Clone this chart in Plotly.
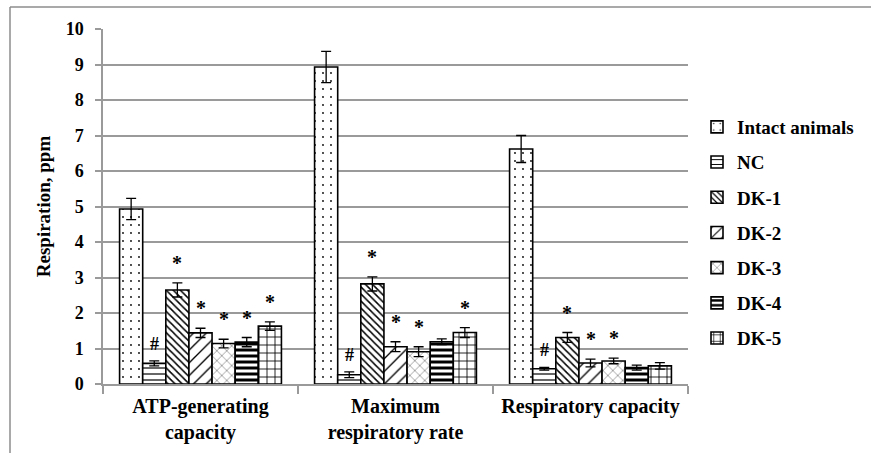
import plotly.graph_objects as go

# Measurement groups on the category axis
categories = ["ATP-generating<br>capacity", "Maximum<br>respiratory rate", "Respiratory capacity"]

# Series: mean respiration (ppm) and error per group
series_names = ["Intact animals", "NC", "DK-1", "DK-2", "DK-3", "DK-4", "DK-5"]
intact = [4.93, 8.93, 6.62]
nc = [0.58, 0.26, 0.43]
dk1 = [2.65, 2.82, 1.31]
dk2 = [1.44, 1.05, 0.59]
dk3 = [1.14, 0.91, 0.65]
dk4 = [1.18, 1.19, 0.46]
dk5 = [1.63, 1.45, 0.51]

intact_err = [0.30, 0.44, 0.38]
nc_err = [0.07, 0.08, 0.04]
dk1_err = [0.20, 0.20, 0.14]
dk2_err = [0.13, 0.14, 0.11]
dk3_err = [0.12, 0.14, 0.08]
dk4_err = [0.13, 0.08, 0.07]
dk5_err = [0.12, 0.14, 0.09]

# Significance marks per series and group ("" = none)
nc_marks = ["#", "#", "#"]
dk1_marks = ["*", "*", "*"]
dk2_marks = ["*", "*", "*"]
dk3_marks = ["*", "*", "*"]
dk4_marks = ["*", "", ""]
dk5_marks = ["*", "*", ""]
intact_marks = ["", "", ""]

values = [intact, nc, dk1, dk2, dk3, dk4, dk5]
errors = [intact_err, nc_err, dk1_err, dk2_err, dk3_err, dk4_err, dk5_err]
marks = [intact_marks, nc_marks, dk1_marks, dk2_marks, dk3_marks, dk4_marks, dk5_marks]

patterns = [
    dict(shape=".", size=8, solidity=0.04),
    dict(shape="-", size=6, solidity=0.2),
    dict(shape="\\", size=5, solidity=0.3),
    dict(shape="/", size=9, solidity=0.15),
    dict(shape="x", size=7, solidity=0.1),
    dict(shape="-", size=6, solidity=0.5),
    dict(shape="+", size=8, solidity=0.2),
]

FONT = "Liberation Serif"
GRID = "#9a9a9a"
BARGAP = 0.17

fig = go.Figure()
for i, name in enumerate(series_names):
    pat = dict(patterns[i])
    pat.update(fgcolor="black", bgcolor="white", fillmode="replace")
    fig.add_trace(go.Bar(
        name=f"<b>{name}</b>",
        x=categories,
        y=values[i],
        legendgroup=name,
        marker=dict(color="white", line=dict(color="black", width=1.6), pattern=pat),
        error_y=dict(type="data", array=errors[i], visible=True,
                     color="black", thickness=1.3, width=5),
    ))

# Significance symbols above the error bars
n = len(series_names)
slot = (1 - BARGAP) / n
for i in range(n):
    for j in range(len(categories)):
        m = marks[i][j]
        if not m:
            continue
        xpos = j - (1 - BARGAP) / 2 + (i + 0.5) * slot
        fig.add_annotation(
            x=xpos, y=values[i][j] + errors[i][j], xref="x", yref="y",
            text=f"<b>{m}</b>", showarrow=False,
            yanchor="middle", yshift=20 if m == "*" else 17,
            font=dict(family=FONT, size=20 if m == "*" else 18, color="black"),
        )

L, R, T, B = 103, 183, 29, 69
W, H = 871, 453
pw, ph = W - L - R, H - T - B

def px_x(x):
    return (x - L) / pw

def px_y(y):
    return 1 - (y - T) / ph

# Outer frame (top and left edges)
fig.add_shape(type="line", xref="paper", yref="paper",
              x0=px_x(10), x1=px_x(W + 2), y0=px_y(7), y1=px_y(7),
              line=dict(color="#8c8c8c", width=1.5))
fig.add_shape(type="line", xref="paper", yref="paper",
              x0=px_x(10), x1=px_x(10), y0=px_y(7), y1=px_y(H + 2),
              line=dict(color="#8c8c8c", width=1.5))

fig.update_layout(
    width=W, height=H,
    margin=dict(l=L, r=R, t=T, b=B, pad=0, autoexpand=False),
    paper_bgcolor="white", plot_bgcolor="white",
    barmode="group", bargap=BARGAP, bargroupgap=0,
    font=dict(family=FONT, color="black"),
    showlegend=True,
    legend=dict(
        x=px_x(697), y=px_y(108), xanchor="left", yanchor="top",
        font=dict(family=FONT, size=19, color="black"),
        tracegroupgap=7.5, itemwidth=30,
        bgcolor="rgba(0,0,0,0)",
    ),
    xaxis=dict(
        type="category", automargin=False,
        showline=True, linecolor=GRID, linewidth=1.5,
        ticks="outside", tickson="boundaries", ticklen=8, tickcolor=GRID, tickwidth=1.5,
        tickfont=dict(family=FONT, size=20, color="black"),
        ticklabelstandoff=3,
        showgrid=False,
    ),
    yaxis=dict(
        range=[0, 10], dtick=1, automargin=False,
        showline=True, linecolor=GRID, linewidth=1.5,
        ticks="outside", ticklen=6, tickcolor=GRID, tickwidth=1.5,
        showgrid=True, gridcolor=GRID, gridwidth=1.5,
        zeroline=False,
        tickfont=dict(family=FONT, size=18, color="black"),
        ticklabelstandoff=8,
        title=dict(text="<b>Respiration, ppm</b>", standoff=10,
                   font=dict(family=FONT, size=19, color="black")),
    ),
)
fig.update_xaxes(tickvals=categories, ticktext=[f"<b>{c}</b>" for c in categories])
fig.update_yaxes(tickvals=list(range(11)), ticktext=[f"<b>{v}</b>" for v in range(11)])

fig.write_html("out.html")
